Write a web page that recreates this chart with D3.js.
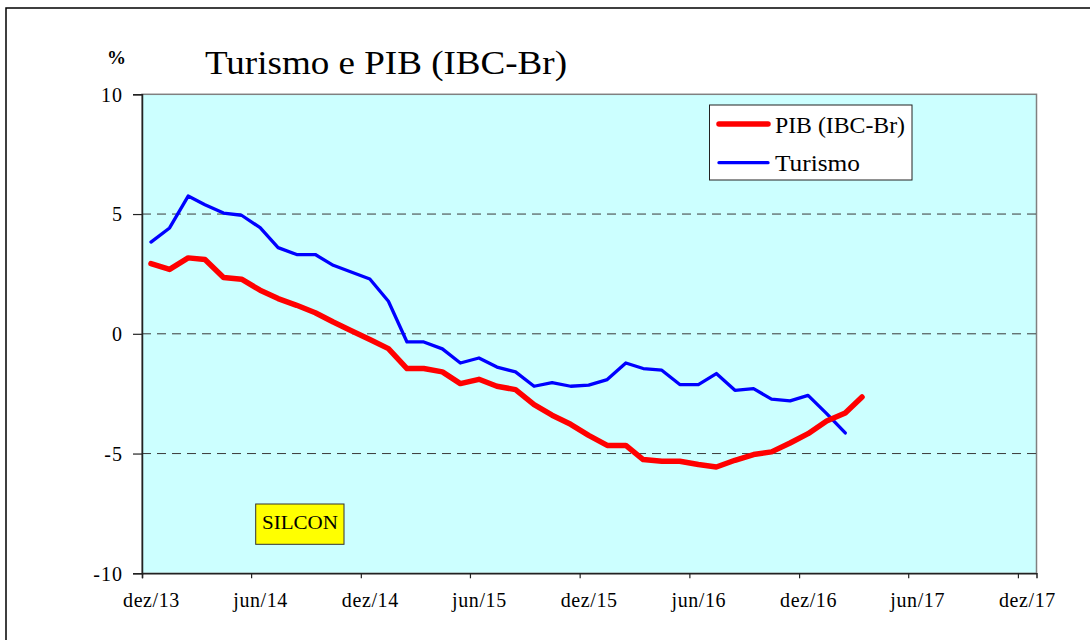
<!DOCTYPE html>
<html><head><meta charset="utf-8">
<script src="https://cdn.jsdelivr.net/npm/d3@7"></script>
<style>
html,body{margin:0;padding:0;background:#fff;}
text{font-family:"Liberation Serif","Times New Roman",serif;fill:#000;}
</style></head>
<body><svg id="c" width="1090" height="640"></svg>
<script>
const months = ["2013-12","2014-01","2014-02","2014-03","2014-04","2014-05","2014-06","2014-07","2014-08","2014-09","2014-10","2014-11","2014-12",
"2015-01","2015-02","2015-03","2015-04","2015-05","2015-06","2015-07","2015-08","2015-09","2015-10","2015-11","2015-12",
"2016-01","2016-02","2016-03","2016-04","2016-05","2016-06","2016-07","2016-08","2016-09","2016-10","2016-11","2016-12",
"2017-01","2017-02","2017-03"];
const pib = [2.93,2.69,3.17,3.10,2.35,2.28,1.82,1.47,1.19,0.88,0.49,0.12,-0.24,
-0.62,-1.45,-1.45,-1.59,-2.08,-1.90,-2.19,-2.33,-2.96,-3.40,-3.78,-4.24,
-4.66,-4.66,-5.25,-5.32,-5.32,-5.46,-5.56,-5.28,-5.04,-4.93,-4.56,-4.17,
-3.64,-3.31,-2.64];
const turismo = [3.83,4.42,5.75,5.39,5.04,4.95,4.43,3.60,3.31,3.31,2.86,2.57,2.29,
1.36,-0.34,-0.34,-0.63,-1.22,-1.01,-1.39,-1.59,-2.19,-2.04,-2.19,-2.14,
-1.91,-1.22,-1.45,-1.52,-2.12,-2.12,-1.66,-2.36,-2.29,-2.73,-2.80,-2.57,
-3.33,-4.14];
const xTickMonths = ["2013-12","2014-06","2014-12","2015-06","2015-12","2016-06","2016-12","2017-06","2017-12"];
const xTickLabels = ["dez/13","jun/14","dez/14","jun/15","dez/15","jun/16","dez/16","jun/17","dez/17"];
const yTicks = [10,5,0,-5,-10];
const yGrid = [5,0,-5];
const xDomain = ["2013-12","2018-01"];

const parse = d3.utcParse("%Y-%m");
const mid = m => { const d = parse(m); return new Date(d.getTime() + 15*864e5); };

const L = 142, R = 1036.5, T = 94.3, B = 573.3;
const x = d3.scaleUtc().domain(xDomain.map(parse)).range([L, R]);
const y = d3.scaleLinear().domain([-10, 10]).range([B, T]);
const SERIF = "'Liberation Serif','Times New Roman',serif";

const svg = d3.select("#c");
// outer frame
svg.append("rect").attr("x",6).attr("y",8).attr("width",1200).attr("height",800)
  .attr("fill","#fff").attr("stroke","#000").attr("stroke-width",1.5);

// plot bg
svg.append("rect").attr("x",L).attr("y",T).attr("width",R-L).attr("height",B-T)
  .attr("fill","#ccffff").attr("stroke","#808080").attr("stroke-width",1.5);

// grid
svg.append("g").selectAll("line").data(yGrid).join("line")
  .attr("x1",L).attr("x2",R).attr("y1",d=>y(d)).attr("y2",d=>y(d))
  .attr("stroke","#3a3a3a").attr("stroke-width",1).attr("stroke-dasharray","9,6");

// y axis
const ya = svg.append("g").attr("transform",`translate(${L},0)`)
  .call(d3.axisLeft(y).tickValues(yTicks).tickSize(9).tickPadding(0).tickFormat(d=>String(d)));
ya.attr("font-family",SERIF).attr("font-size",20);
ya.select(".domain").attr("stroke","#222").attr("stroke-width",1.5);
ya.selectAll(".tick line").attr("stroke","#222").attr("stroke-width",1.2);
ya.selectAll(".tick text").attr("x",-19).attr("dy","0.34em")
  .style("font-family",SERIF).style("font-size","20px").style("letter-spacing","1px").attr("fill","#000");

// x axis
const xa = svg.append("g").attr("transform",`translate(0,${B})`)
  .call(d3.axisBottom(x).tickValues(xTickMonths.map(parse)).tickSize(5).tickFormat(""));
xa.select(".domain").attr("stroke","#222").attr("stroke-width",1.5);
xa.selectAll(".tick line").attr("stroke","#222").attr("stroke-width",1.2);
svg.append("g").selectAll("text").data(xTickMonths).join("text")
  .attr("x",d=>x(mid(d))+0.5).attr("y",607).attr("text-anchor","middle")
  .style("font-family",SERIF).style("font-size","20px").style("letter-spacing","0.6px")
  .text((d,i)=>xTickLabels[i]);

// lines
const line = d3.line().x((d,i)=>x(mid(months[i]))).y(d=>y(d));
svg.append("path").datum(turismo).attr("d",line).attr("fill","none")
  .attr("stroke","#0000ff").attr("stroke-width",3.3).attr("stroke-linejoin","round").attr("stroke-linecap","round");
svg.append("path").datum(pib).attr("d",line).attr("fill","none")
  .attr("stroke","#ff0000").attr("stroke-width",5.5).attr("stroke-linejoin","round").attr("stroke-linecap","round");

// title
svg.append("text").attr("x",205).attr("y",74.3).style("font-size","33px")
  .attr("textLength",362).attr("lengthAdjust","spacingAndGlyphs").text("Turismo e PIB (IBC-Br)");
svg.append("text").attr("x",107).attr("y",63.5).style("font-size","18px").style("font-weight","bold")
  .attr("textLength",19).attr("lengthAdjust","spacingAndGlyphs").text("%");

// legend
const lg = svg.append("g");
lg.append("rect").attr("x",709.5).attr("y",105).attr("width",202.5).attr("height",75)
  .attr("fill","#fff").attr("stroke","#222").attr("stroke-width",1);
lg.append("line").attr("x1",719).attr("x2",768).attr("y1",124).attr("y2",124)
  .attr("stroke","#ff0000").attr("stroke-width",5.5).attr("stroke-linecap","round");
lg.append("line").attr("x1",719).attr("x2",768).attr("y1",162.7).attr("y2",162.7)
  .attr("stroke","#0000ff").attr("stroke-width",3.3).attr("stroke-linecap","round");
lg.append("text").attr("x",775).attr("y",133.3).style("font-size","23px")
  .attr("textLength",130).attr("lengthAdjust","spacingAndGlyphs").text("PIB (IBC-Br)");
lg.append("text").attr("x",775).attr("y",170.5).style("font-size","23px")
  .attr("textLength",85).attr("lengthAdjust","spacingAndGlyphs").text("Turismo");

// SILCON box
svg.append("rect").attr("x",255.7).attr("y",504).attr("width",88.3).attr("height",40.3)
  .attr("fill","#ffff00").attr("stroke","#333").attr("stroke-width",1);
svg.append("text").attr("x",262).attr("y",528.5).style("font-size","19px")
  .attr("textLength",76).attr("lengthAdjust","spacingAndGlyphs").text("SILCON");
</script></body></html>
